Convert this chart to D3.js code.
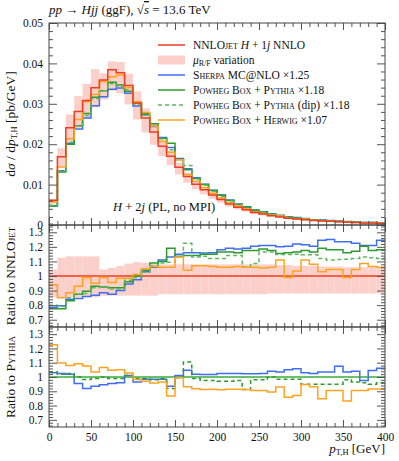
<!DOCTYPE html>
<html>
<head>
<meta charset="utf-8">
<script src="https://cdn.jsdelivr.net/npm/d3@7"></script>
<style>
body { margin: 0; background: #fff; }
svg { display: block; font-family: "Liberation Serif", serif; }
</style>
</head>
<body>
<svg id="chart" width="399" height="461"></svg>
<script>
// bins of 10 GeV, 0..400
var edges = d3.range(0, 410, 10);

// NNLOJET H+1j NNLO, pb/GeV
var nnlo = [0.0061, 0.0169, 0.0241, 0.0281, 0.0308, 0.0340, 0.0359, 0.0384, 0.0377, 0.0345,
  0.0302, 0.0265, 0.0230, 0.0195, 0.0170, 0.0143, 0.0120, 0.0101, 0.0087, 0.0074,
  0.0063, 0.0052, 0.0044, 0.0038, 0.0031, 0.0027, 0.0023, 0.0020, 0.0017, 0.0015,
  0.0013, 0.0011, 0.0010, 0.0009, 0.0008, 0.0007, 0.0006, 0.0005, 0.0005, 0.0004];

// scale variation band, relative to NNLOJET
var bandLo = [0.855, 0.855, 0.855, 0.855, 0.855, 0.855, 0.865, 0.865, 0.865, 0.865,
  0.865, 0.865, 0.865, 0.875, 0.875, 0.875, 0.875, 0.875, 0.875, 0.875,
  0.875, 0.875, 0.875, 0.875, 0.875, 0.875, 0.88, 0.88, 0.88, 0.88,
  0.88, 0.88, 0.88, 0.88, 0.88, 0.88, 0.88, 0.88, 0.88, 0.88];
var bandHi = [1.045, 1.125, 1.135, 1.135, 1.135, 1.135, 1.045, 1.055, 1.07, 1.085,
  1.095, 1.09, 1.085, 1.08, 1.08, 1.08, 1.08, 1.08, 1.08, 1.08,
  1.08, 1.08, 1.08, 1.08, 1.08, 1.08, 1.08, 1.075, 1.075, 1.07,
  1.07, 1.07, 1.065, 1.065, 1.065, 1.06, 1.06, 1.06, 1.06, 1.06];

// main panel, pb/GeV
var sherpa = [0.00479, 0.01344, 0.02024, 0.02374, 0.02649, 0.02951, 0.03177, 0.0336, 0.03393, 0.0326,
  0.02945, 0.0273, 0.02438, 0.02165, 0.01921, 0.01645, 0.01392, 0.01172, 0.01007, 0.00858,
  0.00743, 0.00619, 0.00521, 0.00452, 0.00374, 0.00327, 0.00278, 0.0024, 0.00205, 0.00183,
  0.00158, 0.00133, 0.00125, 0.00113, 0.00099, 0.00086, 0.00074, 0.00061, 0.00061, 0.0005];
var pythia = [0.00473, 0.0131, 0.02, 0.02459, 0.02757, 0.03162, 0.03321, 0.03533, 0.03468, 0.03312,
  0.0302, 0.02756, 0.02507, 0.02145, 0.02023, 0.01623, 0.01368, 0.01151, 0.01, 0.00851,
  0.00734, 0.00606, 0.0051, 0.00447, 0.00364, 0.0032, 0.0027, 0.00231, 0.00197, 0.00175,
  0.00153, 0.00128, 0.00119, 0.00106, 0.00094, 0.00081, 0.0007, 0.0006, 0.00059, 0.00047];
var pythiaDip = [0.00488, 0.01335, 0.02049, 0.02459, 0.0271, 0.03128, 0.03321, 0.03494, 0.03431, 0.03347,
  0.0299, 0.02716, 0.02461, 0.02126, 0.01862, 0.01616, 0.0147, 0.01141, 0.00987, 0.00829,
  0.00706, 0.00593, 0.00502, 0.00404, 0.00336, 0.00315, 0.00268, 0.00229, 0.00195, 0.00173,
  0.00149, 0.00126, 0.00112, 0.001, 0.00089, 0.00078, 0.00067, 0.00057, 0.00056, 0.00045];
var herwig = [0.00573, 0.01437, 0.02133, 0.02613, 0.03049, 0.0323, 0.03554, 0.03667, 0.03713, 0.03398,
  0.0305, 0.02783, 0.0245, 0.02067, 0.01802, 0.01616, 0.01248, 0.01081, 0.00931, 0.00788,
  0.00668, 0.00551, 0.00469, 0.00403, 0.00329, 0.00285, 0.00244, 0.00222, 0.00168, 0.00155,
  0.00144, 0.00119, 0.00103, 0.00094, 0.00084, 0.00069, 0.00063, 0.00054, 0.00053, 0.00042];

// ratio to NNLOJET
var sherpaR1 = [0.785, 0.795, 0.84, 0.845, 0.86, 0.868, 0.885, 0.875, 0.90, 0.945,
  0.975, 1.03, 1.06, 1.11, 1.13, 1.15, 1.16, 1.16, 1.158, 1.16,
  1.18, 1.19, 1.185, 1.19, 1.205, 1.21, 1.21, 1.20, 1.205, 1.22,
  1.215, 1.205, 1.245, 1.25, 1.235, 1.235, 1.225, 1.21, 1.21, 1.245];
var pythiaR1 = [0.775, 0.775, 0.83, 0.875, 0.895, 0.93, 0.925, 0.92, 0.92, 0.96,
  1.0, 1.04, 1.09, 1.10, 1.19, 1.135, 1.14, 1.14, 1.15, 1.15,
  1.165, 1.165, 1.16, 1.175, 1.175, 1.185, 1.175, 1.155, 1.16, 1.165,
  1.175, 1.165, 1.19, 1.18, 1.18, 1.16, 1.17, 1.205, 1.175, 1.18];
var pythiaDipR1 = [0.80, 0.79, 0.85, 0.875, 0.88, 0.92, 0.925, 0.91, 0.91, 0.97,
  0.99, 1.025, 1.07, 1.09, 1.095, 1.13, 1.225, 1.13, 1.135, 1.12,
  1.12, 1.14, 1.14, 1.062, 1.085, 1.165, 1.165, 1.147, 1.147, 1.15,
  1.145, 1.145, 1.12, 1.11, 1.113, 1.115, 1.12, 1.13, 1.125, 1.12];
var herwigR1 = [0.94, 0.85, 0.885, 0.93, 0.99, 0.95, 0.99, 0.955, 0.985, 0.985,
  1.01, 1.05, 1.065, 1.06, 1.06, 1.13, 1.04, 1.07, 1.07, 1.065,
  1.06, 1.06, 1.065, 1.06, 1.06, 1.055, 1.06, 1.11, 0.99, 1.035,
  1.11, 1.08, 1.03, 1.045, 1.045, 0.99, 1.045, 1.085, 1.065, 1.06];

// ratio to Pythia
var sherpaR2 = [1.03, 1.025, 1.02, 0.955, 0.92, 0.935, 0.945, 0.955, 0.96, 1.01,
  0.965, 0.985, 0.985, 0.985, 0.935, 1.01, 1.047, 1.02, 1.017, 1.017,
  1.024, 1.024, 1.025, 1.022, 1.022, 1.025, 1.04, 1.035, 1.05, 1.058,
  1.03, 1.024, 1.035, 1.035, 1.075, 1.035, 1.04, 0.975, 1.045, 1.062];
var pythiaDipR2 = [1.035, 1.02, 1.025, 1.0, 0.983, 0.99, 1.0, 0.99, 0.99, 1.01,
  0.99, 0.99, 0.98, 0.99, 0.92, 0.995, 1.105, 0.99, 0.975, 0.975,
  0.97, 0.97, 0.975, 0.912, 0.98, 0.98, 1.0, 0.985, 0.985, 0.985,
  0.95, 0.95, 0.95, 0.95, 0.95, 0.98, 0.965, 0.96, 0.95, 0.96];
var herwigR2 = [1.226, 1.098, 1.08, 1.092, 1.077, 1.035, 1.066, 1.047, 1.05, 1.028,
  0.983, 0.97, 0.958, 0.965, 0.867, 0.995, 0.932, 0.918, 0.912, 0.915,
  0.91, 0.915, 0.915, 0.912, 0.905, 0.905, 0.895, 0.93, 0.858, 0.87,
  0.948, 0.932, 0.847, 0.905, 0.905, 0.832, 0.905, 0.905, 0.916, 0.916];

// ticks
var xMajor = [0, 50, 100, 150, 200, 250, 300, 350, 400];
var mainYMajor = [0, 0.01, 0.02, 0.03, 0.04, 0.05];
var ratioMajor = [0.7, 0.8, 0.9, 1.0, 1.1, 1.2, 1.3];

var red = '#ee3d22', blue = '#3f6ef5', green = '#2e9a2e', green2 = '#5cb85c', orange = '#ffa31f';

const svg = d3.select('#chart');
const x = d3.scaleLinear().domain([0, 400]).range([49, 385]);
const yMain = d3.scaleLinear().domain([0, 0.05]).range([225, 23]);
const yR1 = d3.scaleLinear().domain([0.65, 1.35]).range([327, 225]);
const yR2 = d3.scaleLinear().domain([0.65, 1.35]).range([427, 327]);

var panels = [
  {id: 'p0', y: yMain, top: 23, bot: 225},
  {id: 'p1', y: yR1, top: 225, bot: 327},
  {id: 'p2', y: yR2, top: 327, bot: 427}
];

var defs = svg.append('defs');
panels.forEach(p => {
  defs.append('clipPath').attr('id', 'clip' + p.id)
    .append('rect').attr('x', x(0)).attr('y', p.top).attr('width', x(400) - x(0)).attr('height', p.bot - p.top);
  p.g = svg.append('g').attr('clip-path', 'url(#clip' + p.id + ')');
});

function stepPath(vals, y) {
  var pts = [];
  vals.forEach((v, i) => {
    pts.push([x(edges[i]), y(v)]);
    pts.push([x(edges[i + 1]), y(v)]);
  });
  return d3.line()(pts);
}

function hist(g, vals, y, color, dash) {
  g.append('path')
    .attr('d', stepPath(vals, y))
    .attr('fill', 'none')
    .attr('stroke', color)
    .attr('stroke-width', 1.5)
    .attr('stroke-dasharray', dash || null);
}

function band(g, lo, hi) {
  g.selectAll('rect.band').data(nnlo).enter().append('rect')
    .attr('x', (d, i) => x(edges[i]))
    .attr('width', (d, i) => x(edges[i + 1]) - x(edges[i]))
    .attr('y', (d, i) => Math.min(hi(d, i), lo(d, i)))
    .attr('height', (d, i) => Math.abs(lo(d, i) - hi(d, i)))
    .attr('fill', '#fcd0ca');
}

// main panel
var g0 = panels[0].g;
band(g0, (d, i) => yMain(d * bandLo[i]), (d, i) => yMain(d * bandHi[i]));
hist(g0, sherpa, yMain, blue);
hist(g0, pythia, yMain, green);
hist(g0, pythiaDip, yMain, green2, '4,3');
hist(g0, herwig, yMain, orange);
hist(g0, nnlo, yMain, red);

// ratio to NNLOJET
var g1 = panels[1].g;
band(g1, (d, i) => yR1(bandLo[i]), (d, i) => yR1(bandHi[i]));
g1.append('line').attr('x1', x(0)).attr('x2', x(400)).attr('y1', yR1(1)).attr('y2', yR1(1))
  .attr('stroke', red).attr('stroke-width', 1.6);
hist(g1, sherpaR1, yR1, blue);
hist(g1, pythiaR1, yR1, green);
hist(g1, pythiaDipR1, yR1, green2, '4,3');
hist(g1, herwigR1, yR1, orange);

// ratio to Pythia
var g2 = panels[2].g;
g2.append('line').attr('x1', x(0)).attr('x2', x(400)).attr('y1', yR2(1)).attr('y2', yR2(1))
  .attr('stroke', '#6cc06c').attr('stroke-width', 2.2);
hist(g2, sherpaR2, yR2, blue);
hist(g2, pythiaDipR2, yR2, green, '4,3');
hist(g2, herwigR2, yR2, orange);

// frames and ticks
var xMinor = d3.range(0, 401, 10).filter(v => v % 50 != 0);
function styleAxis(a) {
  a.select('.domain').remove();
  a.selectAll('line').attr('stroke', '#555');
  a.selectAll('text').attr('fill', '#111').style('font-size', '11.5px').style('font-family', '"Liberation Serif", serif');
}

panels.forEach((p, k) => {
  var yMin = p.y.domain()[0], yMax = p.y.domain()[1];
  var yMajorV = k == 0 ? mainYMajor : ratioMajor;
  var step = k == 0 ? 0.002 : 0.02;
  var yMinorV = d3.range(Math.round(yMin / step), Math.round(yMax / step) + 1).map(v => v * step)
    .filter(v => !yMajorV.some(m => Math.abs(m - v) < 1e-6));

  var bottomLabels = k == 2;
  [['bottom', p.bot], ['top', p.top]].forEach(s => {
    var axMaj = (s[0] == 'bottom' ? d3.axisBottom(x) : d3.axisTop(x)).tickValues(xMajor).tickSize(-7)
      .tickFormat(bottomLabels && s[0] == 'bottom' ? d3.format('d') : '').tickPadding(6);
    var axMin = (s[0] == 'bottom' ? d3.axisBottom(x) : d3.axisTop(x)).tickValues(xMinor).tickSize(-4).tickFormat('');
    styleAxis(svg.append('g').attr('transform', 'translate(0,' + s[1] + ')').call(axMaj));
    styleAxis(svg.append('g').attr('transform', 'translate(0,' + s[1] + ')').call(axMin));
  });

  var fmt = k == 0 ? (v => v == 0 ? '0' : d3.format('.2f')(v)) : d3.format('~g');
  styleAxis(svg.append('g').attr('transform', 'translate(' + x(0) + ',0)')
    .call(d3.axisLeft(p.y).tickValues(yMajorV).tickSize(-8).tickPadding(6).tickFormat(fmt)));
  styleAxis(svg.append('g').attr('transform', 'translate(' + x(0) + ',0)')
    .call(d3.axisLeft(p.y).tickValues(yMinorV).tickSize(-4).tickFormat('')));
  styleAxis(svg.append('g').attr('transform', 'translate(' + x(400) + ',0)')
    .call(d3.axisRight(p.y).tickValues(yMajorV).tickSize(-8).tickFormat('')));
  styleAxis(svg.append('g').attr('transform', 'translate(' + x(400) + ',0)')
    .call(d3.axisRight(p.y).tickValues(yMinorV).tickSize(-4).tickFormat('')));

  svg.append('rect').attr('x', x(0)).attr('y', p.top).attr('width', x(400) - x(0)).attr('height', p.bot - p.top)
    .attr('fill', 'none').attr('stroke', '#444').attr('stroke-width', 1);
});

// texts
const IT = 'font-style:italic';
const SC = 'font-variant:small-caps';
const SUB = 'font-size:8.5px;baseline-shift:-2px';

function rich(xx, yy, parts, opts) {
  opts = opts || {};
  var t = svg.append('text').attr('x', xx).attr('y', yy)
    .attr('text-anchor', opts.anchor || 'start')
    .attr('fill', '#111')
    .style('font-size', (opts.size || 12) + 'px');
  if (opts.rotate) t.attr('transform', 'rotate(-90,' + xx + ',' + yy + ')');
  parts.forEach(p => {
    var s = t.append('tspan').text(p[0]);
    if (p[1]) s.attr('style', p[1]);
  });
  return t;
}

rich(49, 14, [['pp', IT], [' \u2192 '], ['Hjj', IT], [' (ggF), \u221A'], ['s', IT + ';text-decoration:overline'], [' = 13.6 TeV']], {size: 13});

rich(15, 124, [['d'], ['\u03C3', IT], [' / d'], ['p', IT], ['T,H', SUB], [' [pb/GeV]']], {anchor: 'middle', rotate: true, size: 13.5});
rich(15, 276, [['Ratio to NNLO'], ['jet', SC]], {anchor: 'middle', rotate: true, size: 13.5});
rich(15, 377, [['Ratio to '], ['Pythia', SC]], {anchor: 'middle', rotate: true, size: 13.5});
rich(385, 453, [['p', IT], ['T,H', SUB], [' [GeV]']], {anchor: 'end', size: 13});

rich(113, 211, [['H', IT], [' + 2'], ['j', IT], [' (PL, no MPI)']], {size: 12.5});

// legend
var legend = [
  {color: red, parts: [['NNLO'], ['jet', SC], [' '], ['H', IT], [' + 1'], ['j', IT], [' NNLO']]},
  {band: true, parts: [['\u03BC', IT], ['R/F', 'font-size:8px;baseline-shift:-1.5px'], [' variation']]},
  {color: blue, parts: [['Sherpa', SC], [' MC@NLO \u00D71.25']]},
  {color: green, parts: [['Powheg Box', SC], [' + '], ['Pythia', SC], [' \u00D71.18']]},
  {color: green2, dash: '4,3', parts: [['Powheg Box', SC], [' + '], ['Pythia', SC], [' (dip) \u00D71.18']]},
  {color: orange, parts: [['Powheg Box', SC], [' + '], ['Herwig', SC], [' \u00D71.07']]}
];
legend.forEach((e, i) => {
  var cy = 45 + i * 15;
  if (e.band) {
    svg.append('rect').attr('x', 158).attr('y', cy - 4.5).attr('width', 27).attr('height', 9).attr('fill', '#fcd0ca');
  } else {
    svg.append('line').attr('x1', 158).attr('x2', 185).attr('y1', cy).attr('y2', cy)
      .attr('stroke', e.color).attr('stroke-width', 1.5).attr('stroke-dasharray', e.dash || null);
  }
  rich(193, cy + 4, e.parts, {size: 11.5});
});
</script>
</body>
</html>
